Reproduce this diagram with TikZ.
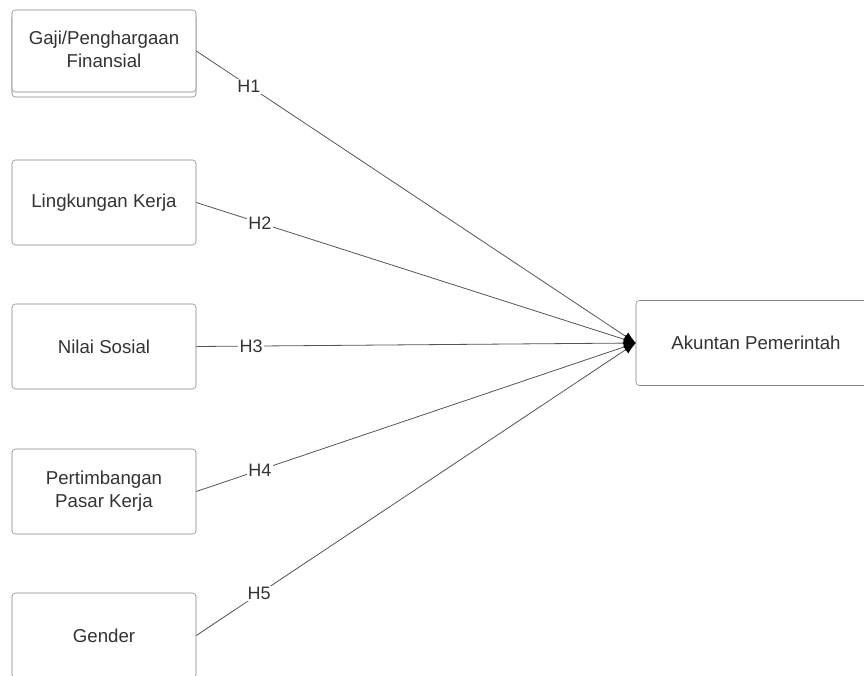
\documentclass[tikz,border=0pt]{standalone}
\usepackage{fontspec}
\setmainfont{Liberation Sans}
\usetikzlibrary{arrows.meta}
\definecolor{boxgrey}{RGB}{130,130,130}
\definecolor{linegrey}{RGB}{85,85,85}
\definecolor{textgrey}{RGB}{51,51,51}
\tikzset{
  varbox/.style={draw=boxgrey, rounded corners=2.5pt, fill=white, minimum width=138pt, minimum height=63.75pt, align=center, text=textgrey, font=\fontsize{14}{17.25}\selectfont},
  hline/.style={draw=linegrey, line width=0.6pt, -{Latex[length=9pt,width=7pt,color=black]}},
  hlabel/.style={fill=white, inner sep=1pt, text=textgrey, font=\fontsize{13.5}{16}\selectfont}
}
\begin{document}
\begin{tikzpicture}[x=0.75pt,y=0.75pt,yscale=-1]
\useasboundingbox (0,0) rectangle (864,675);

%Shape: Rectangle (shadow of first box)
\draw[draw=boxgrey, rounded corners=2.5pt, fill=white] (12,15) rectangle (196,97);
%Shape: Rectangle
\node[varbox, minimum height=61.5pt] (gaji) at (104,51) {Gaji/Penghargaan\\Finansial\vphantom{g}};
%Shape: Rectangle
\node[varbox] (lingkungan) at (104,202.5) {Lingkungan Kerja};
%Shape: Rectangle
\node[varbox] (nilai) at (104,346.5) {Nilai Sosial};
%Shape: Rectangle
\node[varbox] (pasar) at (104,491.5) {Pertimbangan\\Pasar Kerja};
%Shape: Rectangle
\node[varbox] (gender) at (104,635.5) {Gender};
%Shape: Rectangle
\node[varbox, minimum width=180pt] (akuntan) at (756,343) {Akuntan Pemerintah};

%Straight Lines
\draw[hline] (gaji.east) -- node[hlabel, pos=0.12] (h1) {H1} (akuntan.west);
%Straight Lines
\draw[hline] (lingkungan.east) -- node[hlabel, pos=0.145] (h2) {H2} (akuntan.west);
%Straight Lines
\draw[hline] (nilai.east) -- node[hlabel, pos=0.125] (h3) {H3} (akuntan.west);
%Straight Lines
\draw[hline] (pasar.east) -- node[hlabel, pos=0.145] (h4) {H4} (akuntan.west);
%Straight Lines
\draw[hline] (gender.east) -- node[hlabel, pos=0.143] (h5) {H5} (akuntan.west);

\end{tikzpicture}
\end{document}
